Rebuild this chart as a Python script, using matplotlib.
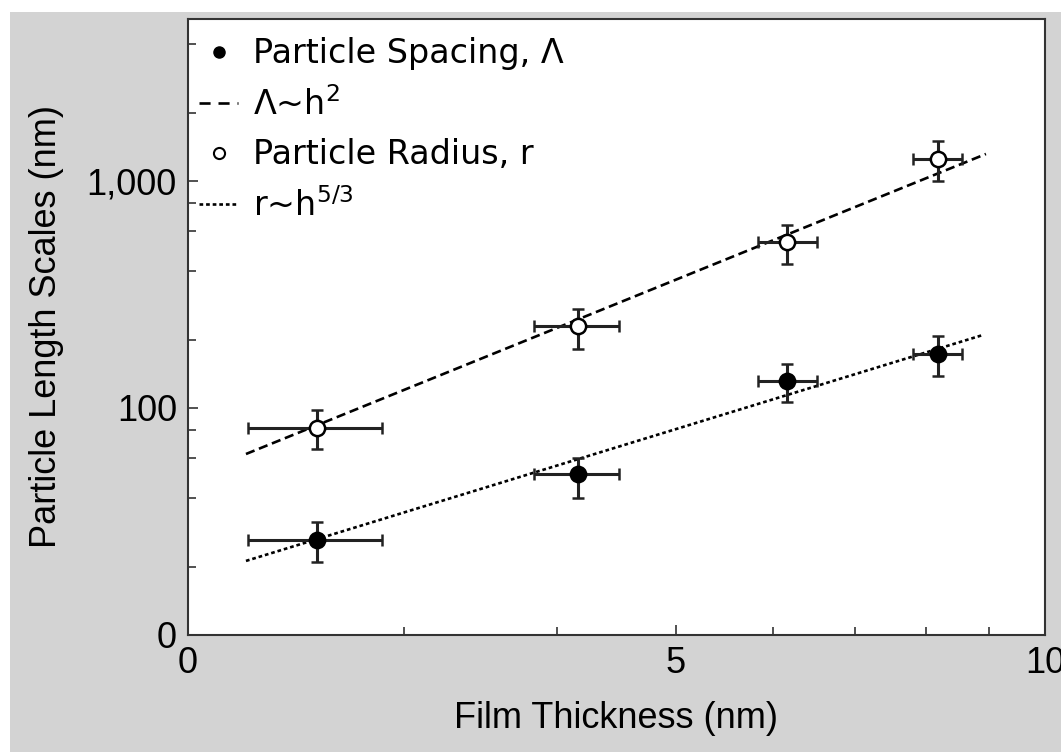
import matplotlib
matplotlib.use("Agg")
import matplotlib.pyplot as plt
from matplotlib.lines import Line2D
from matplotlib.patches import Rectangle
import numpy as np

# film thickness (nm), centre and error bar ends
thickness = np.array([2.55, 4.16, 6.16, 8.18])
thickness_lo = np.array([2.24, 3.83, 5.83, 7.81])
thickness_hi = np.array([2.88, 4.49, 6.52, 8.56])

# upper series (open circles)
upper = np.array([81.6, 230, 538, 1250])
upper_lo = np.array([66, 182, 430, 1000])
upper_hi = np.array([98, 273, 640, 1500])

# lower series (filled circles)
lower = np.array([26.2, 51.2, 131.5, 173])
lower_lo = np.array([21.0, 40.1, 106, 138])
lower_hi = np.array([31.5, 60.2, 156, 207])

# scaling lines, end points
dash_x = [2.23, 8.95]
dash_y = [62.7, 1315]
dot_x = [2.23, 8.90]
dot_y = [21.2, 209.7]

x_ticks = [2, 5, 10]
x_ticklabels = ["0", "5", "10"]
y_ticks = [10, 100, 1000]
y_ticklabels = ["0", "100", "1,000"]

narrow = ["Liberation Sans Narrow", "Liberation Sans", "DejaVu Sans"]

fig = plt.figure(figsize=(10.61, 7.52), dpi=100, facecolor="white")
fig.patches.append(Rectangle((10 / 1061, 0), 1, 1 - 12 / 752, transform=fig.transFigure,
                             facecolor="#d3d3d3", edgecolor="none", zorder=-10))
ax = fig.add_axes([188 / 1061, 1 - 635 / 752, (1045 - 188) / 1061, (635 - 19) / 752])
ax.set_facecolor("white")

ax.plot(dash_x, dash_y, color="black", lw=1.9, linestyle=(0, (3.5, 1.8)), zorder=2)
ax.plot(dot_x, dot_y, color="black", lw=1.9, linestyle=(0, (1.4, 1.1)), zorder=2)

ax.errorbar(thickness, upper,
            xerr=[thickness - thickness_lo, thickness_hi - thickness],
            yerr=[upper - upper_lo, upper_hi - upper],
            fmt="o", ms=11, mfc="white", mec="black", mew=1.8,
            ecolor="#222222", elinewidth=2.2, capsize=4.5, capthick=2.2, zorder=3)
ax.errorbar(thickness, lower,
            xerr=[thickness - thickness_lo, thickness_hi - thickness],
            yerr=[lower - lower_lo, lower_hi - lower],
            fmt="o", ms=11, mfc="black", mec="black", mew=1.8,
            ecolor="#222222", elinewidth=2.2, capsize=4.5, capthick=2.2, zorder=3)

ax.set_xscale("log")
ax.set_yscale("log")
ax.set_xlim(2, 10)
ax.set_ylim(10, 5170)

ax.set_xticks(x_ticks)
ax.set_xticklabels(x_ticklabels)
ax.set_xticks([3, 4, 6, 7, 8, 9], minor=True)
ax.set_xticklabels([], minor=True)
ax.set_yticks(y_ticks)
ax.set_yticklabels(y_ticklabels)
ax.set_yticks([20, 40, 60, 80, 200, 400, 600, 800, 2000, 4000], minor=True)
ax.set_yticklabels([], minor=True)

ax.tick_params(which="both", direction="in", top=False, right=False, width=1.2, color="#333333")
ax.tick_params(which="major", length=7, labelsize=26, pad=8)
ax.tick_params(which="minor", length=6)
for lab in ax.get_xticklabels() + ax.get_yticklabels():
    lab.set_family(narrow)
for s in ax.spines.values():
    s.set_linewidth(1.5)
    s.set_color("#333333")

ax.set_xlabel("Film Thickness (nm)", fontsize=26, family=narrow, labelpad=14)
ax.set_ylabel("Particle Length Scales (nm)", fontsize=26, family=narrow, labelpad=16)

handles = [
    Line2D([], [], marker="o", ls="none", mfc="black", mec="black", ms=8),
    Line2D([], [], color="black", lw=1.9, linestyle=(0, (4.2, 3.0))),
    Line2D([], [], marker="o", ls="none", mfc="white", mec="black", mew=1.5, ms=8),
    Line2D([], [], color="black", lw=1.9, linestyle=(0, (1.4, 1.1))),
]
labels = ["Particle Spacing, Λ", r"Λ~h$^2$", "Particle Radius, r", r"r~h$^{5/3}$"]
ax.legend(handles, labels, loc="upper left", bbox_to_anchor=(-0.008, 1.0), frameon=False,
          fontsize=24, handlelength=1.15, handletextpad=0.45, labelspacing=0.5,
          borderaxespad=0.0, borderpad=0.55)

fig.savefig("out.png", dpi=100)
